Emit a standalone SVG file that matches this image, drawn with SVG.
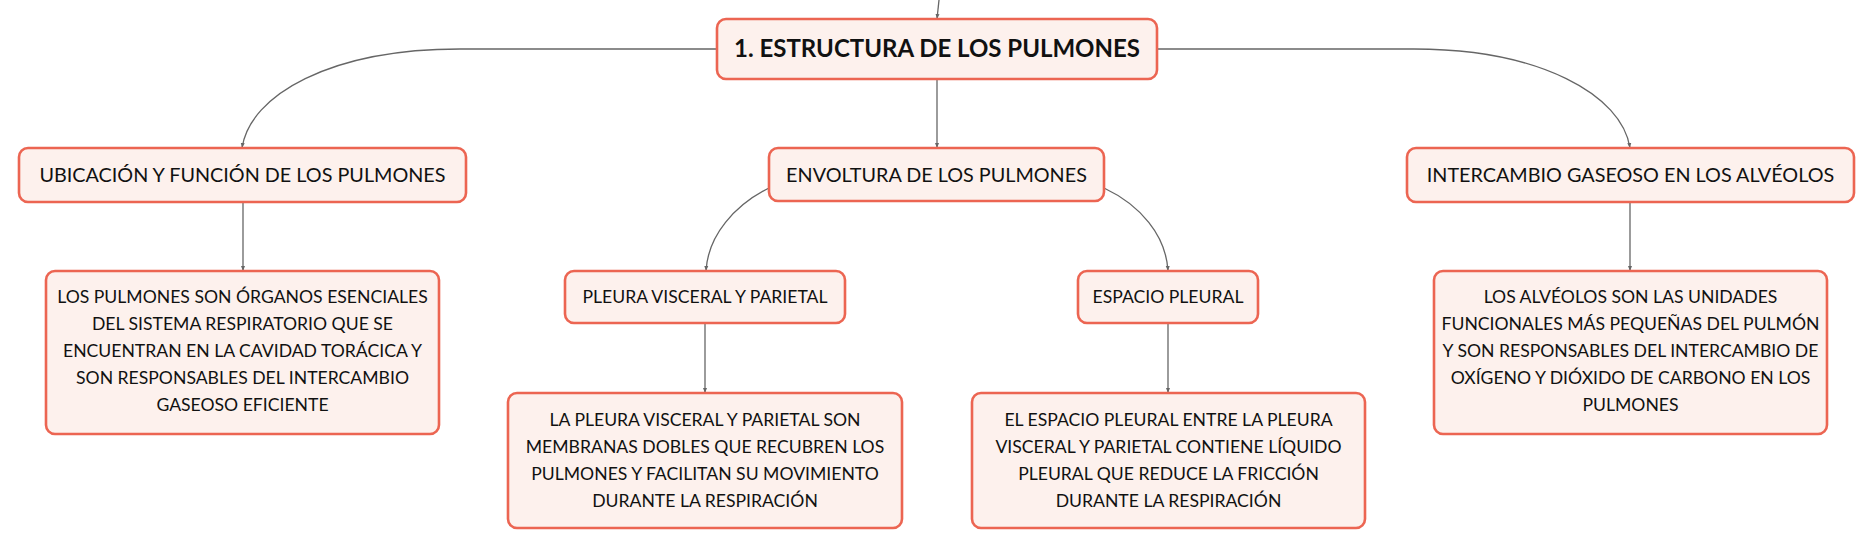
<svg xmlns="http://www.w3.org/2000/svg" width="1875" height="549" viewBox="0 0 1875 549">
<defs>
<marker id="arr" viewBox="0 0 10 10" refX="10" refY="5" markerWidth="5" markerHeight="5" markerUnits="userSpaceOnUse" orient="auto">
<path d="M0,1 L10,5 L0,9 z" fill="#666"/>
</marker>
<style>
.box{fill:#FDF1ED;stroke:#EC6552;stroke-width:2.6}
.t{font-family:Lato,"Open Sans","DejaVu Sans",sans-serif;fill:#111;text-anchor:middle}
.main{font-size:24px;font-weight:bold}
.l1{font-size:19.8px}
.l2{font-size:17.6px}
.d{font-size:17.6px}
.c{fill:none;stroke:#666;stroke-width:1.3}
</style>
</defs>
<rect width="1875" height="549" fill="#fff"/>
<g id="connectors">
<path class="c" d="M939,0 L937,19" marker-end="url(#arr)"/>
<path class="c" d="M717,49 L460,49 C330,49 250,95 242,148" marker-end="url(#arr)"/>
<path class="c" d="M937,79 L937,148" marker-end="url(#arr)"/>
<path class="c" d="M1157,49 L1414,49 C1540,49 1622,95 1630,148" marker-end="url(#arr)"/>
<path class="c" d="M243,202 L243,271" marker-end="url(#arr)"/>
<path class="c" d="M769,188 C735,205 708,235 706,271" marker-end="url(#arr)"/>
<path class="c" d="M1104,188 C1140,205 1166,235 1168,271" marker-end="url(#arr)"/>
<path class="c" d="M705,323 L705,393" marker-end="url(#arr)"/>
<path class="c" d="M1168,323 L1168,393" marker-end="url(#arr)"/>
<path class="c" d="M1630,202 L1630,271" marker-end="url(#arr)"/>
</g>
<g id="n-main">
<rect class="box" x="717" y="19" width="440" height="60" rx="9"/>
<text class="t main" x="937" y="57">1. ESTRUCTURA DE LOS PULMONES</text>
</g>
<g id="n-ubicacion">
<rect class="box" x="19" y="148" width="447" height="54" rx="9"/>
<text class="t l1" x="242.5" y="182">UBICACIÓN Y FUNCIÓN DE LOS PULMONES</text>
</g>
<g id="n-envoltura">
<rect class="box" x="769" y="148" width="335" height="53" rx="9"/>
<text class="t l1" x="936.5" y="182">ENVOLTURA DE LOS PULMONES</text>
</g>
<g id="n-intercambio">
<rect class="box" x="1407" y="148" width="447" height="54" rx="9"/>
<text class="t l1" x="1630.5" y="182">INTERCAMBIO GASEOSO EN LOS ALVÉOLOS</text>
</g>
<g id="n-ubicacion-desc">
<rect class="box" x="46" y="271" width="393" height="163" rx="9"/>
<text class="t d" x="242.5" y="303">LOS PULMONES SON ÓRGANOS ESENCIALES</text>
<text class="t d" x="242.5" y="330">DEL SISTEMA RESPIRATORIO QUE SE</text>
<text class="t d" x="242.5" y="357">ENCUENTRAN EN LA CAVIDAD TORÁCICA Y</text>
<text class="t d" x="242.5" y="384">SON RESPONSABLES DEL INTERCAMBIO</text>
<text class="t d" x="242.5" y="411">GASEOSO EFICIENTE</text>
</g>
<g id="n-pleura">
<rect class="box" x="565" y="271" width="280" height="52" rx="9"/>
<text class="t l2" x="705" y="303">PLEURA VISCERAL Y PARIETAL</text>
</g>
<g id="n-espacio">
<rect class="box" x="1078" y="271" width="180" height="52" rx="9"/>
<text class="t l2" x="1168" y="303">ESPACIO PLEURAL</text>
</g>
<g id="n-pleura-desc">
<rect class="box" x="508" y="393" width="394" height="135" rx="9"/>
<text class="t d" x="705" y="426">LA PLEURA VISCERAL Y PARIETAL SON</text>
<text class="t d" x="705" y="453">MEMBRANAS DOBLES QUE RECUBREN LOS</text>
<text class="t d" x="705" y="480">PULMONES Y FACILITAN SU MOVIMIENTO</text>
<text class="t d" x="705" y="507">DURANTE LA RESPIRACIÓN</text>
</g>
<g id="n-espacio-desc">
<rect class="box" x="972" y="393" width="393" height="135" rx="9"/>
<text class="t d" x="1168.5" y="426">EL ESPACIO PLEURAL ENTRE LA PLEURA</text>
<text class="t d" x="1168.5" y="453">VISCERAL Y PARIETAL CONTIENE LÍQUIDO</text>
<text class="t d" x="1168.5" y="480">PLEURAL QUE REDUCE LA FRICCIÓN</text>
<text class="t d" x="1168.5" y="507">DURANTE LA RESPIRACIÓN</text>
</g>
<g id="n-intercambio-desc">
<rect class="box" x="1434" y="271" width="393" height="163" rx="9"/>
<text class="t d" x="1630.5" y="303">LOS ALVÉOLOS SON LAS UNIDADES</text>
<text class="t d" x="1630.5" y="330">FUNCIONALES MÁS PEQUEÑAS DEL PULMÓN</text>
<text class="t d" x="1630.5" y="357">Y SON RESPONSABLES DEL INTERCAMBIO DE</text>
<text class="t d" x="1630.5" y="384">OXÍGENO Y DIÓXIDO DE CARBONO EN LOS</text>
<text class="t d" x="1630.5" y="411">PULMONES</text>
</g>
</svg>
